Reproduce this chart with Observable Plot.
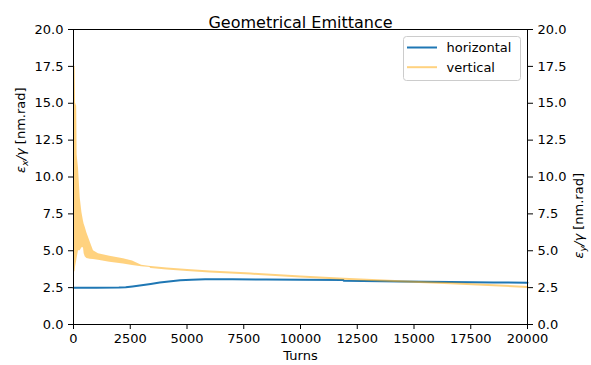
<!DOCTYPE html>
<html>
<head>
<meta charset="utf-8">
<script src="https://cdn.jsdelivr.net/npm/d3@7"></script>
<script src="https://cdn.jsdelivr.net/npm/@observablehq/plot@0.6"></script>
<style>
  body { margin: 0; background: #fff; }
  #chart { position: relative; width: 591px; height: 365px; }
</style>
</head>
<body>
<div id="chart"></div>
<script>
// Horizontal emittance (turns, eps_x/gamma in nm.rad)
const hTurns = [0, 1000, 2000, 2300, 2600, 3000, 3400, 3800, 4200, 4700, 5200, 5800, 7000, 8500, 10000, 11890, 11900, 14400, 16600, 18500, 20000];
const hEmit  = [2.50, 2.50, 2.51, 2.53, 2.58, 2.66, 2.75, 2.84, 2.92, 3.00, 3.04, 3.07, 3.06, 3.05, 3.03, 3.01, 2.97, 2.92, 2.88, 2.85, 2.83];

// Vertical emittance: early turn-by-turn oscillation envelope (low / high)
const vBandTurns = [0, 70, 90, 140, 160, 220, 295, 370, 440, 470, 515, 590, 735, 880, 1100, 1600, 2200, 2600, 3000, 3400];
const vLow  = [3.5, 3.6, 3.9, 4.3, 4.5, 5.0, 5.0, 5.2, 5.2, 4.8, 4.6, 4.47, 4.42, 4.4, 4.35, 4.22, 4.1, 4.0, 3.92, 3.87];
const vHigh = [17.5, 17.5, 15.0, 14.8, 11.5, 10.6, 8.6, 7.6, 7.0, 6.8, 6.6, 6.2, 5.6, 5.0, 4.8, 4.62, 4.45, 4.3, 4.02, 3.93];

// Vertical emittance once damped
const vTurns = [3400, 4100, 5000, 6000, 7800, 10000, 11900, 14400, 16600, 20000];
const vEmit  = [3.90, 3.80, 3.70, 3.60, 3.45, 3.25, 3.10, 2.93, 2.80, 2.55];

// Tick values and texts
const xTicks = [0, 2500, 5000, 7500, 10000, 12500, 15000, 17500, 20000];
const yTicks = [0, 2.5, 5, 7.5, 10, 12.5, 15, 17.5, 20];
const title = "Geometrical Emittance";
const xLabel = "Turns";
const yLabelLeft = "εx/γ [nm.rad]";
const yLabelRight = "εy/γ [nm.rad]";
const seriesNames = ["horizontal", "vertical"];

const blue = "#1f77b4";
const orange = "orange";

const horizontal = hTurns.map((t, i) => ({turns: t, emit: hEmit[i]}));
const vBand = vBandTurns.map((t, i) => ({turns: t, low: vLow[i], high: vHigh[i]}));
const vertical = vTurns.map((t, i) => ({turns: t, emit: vEmit[i]}));

const chart = Plot.plot({
  width: 591,
  height: 365,
  marginLeft: 73,
  marginRight: 64,
  marginTop: 29,
  marginBottom: 41,
  style: {fontFamily: "DejaVu Sans", fontSize: "13px", color: "#000", background: "#fff"},
  x: {domain: [0, 20000]},
  y: {domain: [0, 20]},
  marks: [
    Plot.axisX({ticks: xTicks, tickFormat: "d", tickSize: 5, tickPadding: 4, label: null}),
    Plot.axisY({ticks: yTicks, tickFormat: ".1f", tickSize: 5, tickPadding: 5, label: null}),
    Plot.axisY({anchor: "right", ticks: yTicks, tickFormat: ".1f", tickSize: 5, tickPadding: 5, label: null}),
    Plot.lineY(horizontal, {x: "turns", y: "emit", stroke: blue, strokeWidth: 2}),
    Plot.areaY(vBand, {x: "turns", y1: "low", y2: "high", fill: orange, fillOpacity: 0.5}),
    Plot.lineY(vertical, {x: "turns", y: "emit", stroke: orange, strokeOpacity: 0.5, strokeWidth: 2}),
    Plot.frame({stroke: "#000", strokeWidth: 1}),
    Plot.text([title], {text: d => d, frameAnchor: "top", dy: -13, fontSize: 16}),
    Plot.text([xLabel], {text: d => d, frameAnchor: "bottom", dy: 35}),
    Plot.text([yLabelLeft], {text: d => d, frameAnchor: "left", dx: -53, dy: -4, rotate: -90}),
    Plot.text([yLabelRight], {text: d => d, frameAnchor: "right", dx: 51, dy: -4, rotate: -90})
  ]
});

document.getElementById("chart").appendChild(chart);

const svg = d3.select(chart);

// Axis titles with italic symbols and subscripts
svg.selectAll("text").each(function () {
  const t = this.textContent;
  const sub = t === yLabelLeft ? "x" : t === yLabelRight ? "y" : null;
  if (!sub) return;
  const el = d3.select(this);
  el.text(null);
  el.append("tspan").attr("font-style", "italic").text("ε");
  el.append("tspan").attr("font-style", "italic").attr("font-size", "9.5px").attr("dy", 3).text(sub);
  el.append("tspan").attr("font-style", "italic").attr("dy", -3).text("/γ");
  el.append("tspan").text(" [nm.rad]");
});

// Legend box
const lg = svg.append("g")
  .attr("font-family", "DejaVu Sans")
  .attr("font-size", 13)
  .attr("text-anchor", "start");
lg.append("rect")
  .attr("x", 403.5).attr("y", 36.5).attr("width", 117).attr("height", 44).attr("rx", 3)
  .attr("fill", "#fff").attr("fill-opacity", 0.8).attr("stroke", "#cccccc");
const swatches = [
  {stroke: blue, opacity: 1},
  {stroke: orange, opacity: 0.5}
];
seriesNames.forEach((name, i) => {
  const cy = 47.5 + i * 19.7;
  lg.append("line")
    .attr("x1", 407).attr("x2", 437).attr("y1", cy).attr("y2", cy)
    .attr("stroke", swatches[i].stroke).attr("stroke-opacity", swatches[i].opacity).attr("stroke-width", 2);
  lg.append("text")
    .attr("x", 446.5).attr("y", cy + 4.7)
    .attr("text-anchor", "start").attr("fill", "#000")
    .text(name);
});
</script>
</body>
</html>
